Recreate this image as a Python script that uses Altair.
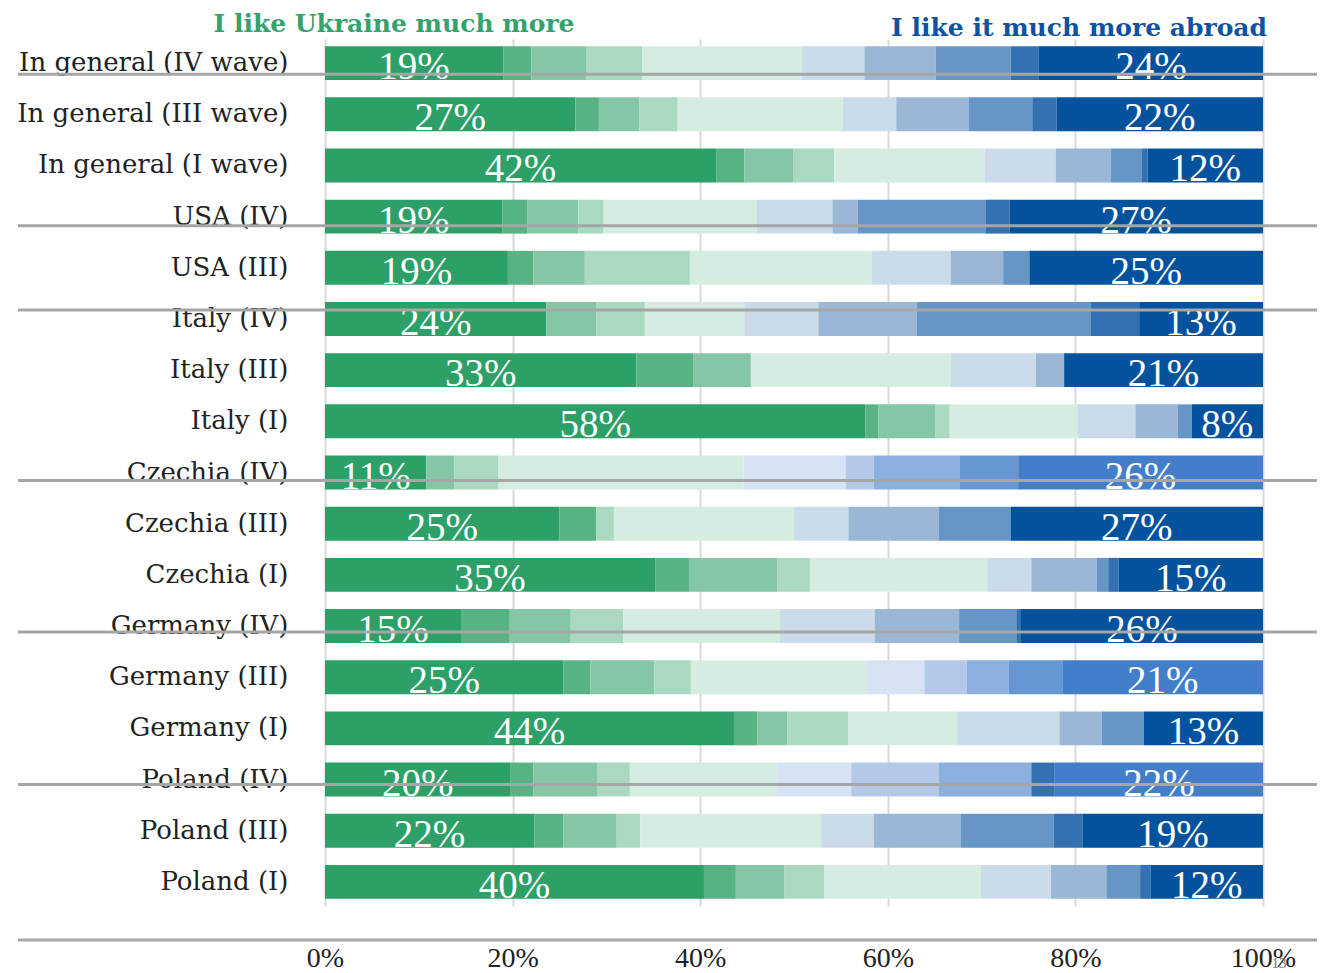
import altair as alt
import pandas as pd

ROWS = ["In general (IV wave)", "In general (III wave)", "In general (I wave)",
        "USA (IV)", "USA (III)", "Italy (IV)", "Italy (III)", "Italy (I)",
        "Czechia (IV)", "Czechia (III)", "Czechia (I)",
        "Germany (IV)", "Germany (III)", "Germany (I)",
        "Poland (IV)", "Poland (III)", "Poland (I)"]

# share of answers per scale step (1 = I like Ukraine much more ... 10 = I like it much more abroad)
SEG1 = [19.0, 26.7, 41.7, 18.9, 19.5, 23.6, 33.2, 57.6, 10.8, 25.0, 35.2, 14.5, 25.4, 43.6, 19.8, 22.3, 40.4]
SEG2 = [3.0, 2.5, 3.0, 2.7, 2.7, 0.0, 6.1, 1.4, 0.0, 3.9, 3.6, 5.2, 2.9, 2.5, 2.4, 3.1, 3.4]
SEG3 = [5.9, 4.3, 5.2, 5.4, 5.5, 5.3, 6.1, 6.1, 3.0, 0.0, 9.4, 6.5, 6.8, 3.2, 6.8, 5.7, 5.2]
SEG4 = [5.9, 4.1, 4.4, 2.7, 11.2, 5.2, 0.0, 1.5, 4.7, 1.9, 3.5, 5.6, 3.9, 6.5, 3.5, 2.5, 4.2]
SEG5 = [17.0, 17.6, 16.0, 16.3, 19.4, 10.6, 21.3, 13.6, 26.1, 19.2, 18.9, 16.7, 18.7, 11.6, 15.7, 19.3, 16.7]
SEG6 = [6.7, 5.7, 7.6, 8.1, 8.4, 7.9, 9.1, 6.2, 10.9, 5.8, 4.7, 10.1, 6.2, 10.9, 7.9, 5.6, 7.5]
SEG7 = [7.6, 7.7, 5.9, 2.7, 5.6, 10.5, 3.0, 4.5, 3.0, 9.6, 7.0, 9.0, 4.5, 4.5, 9.3, 9.3, 5.9]
SEG8 = [8.0, 6.8, 3.3, 13.6, 2.8, 18.5, 0.0, 1.5, 9.2, 7.7, 1.2, 6.1, 4.5, 4.5, 9.9, 9.9, 3.6]
SEG9 = [3.0, 2.6, 0.6, 2.6, 0.0, 5.2, 0.0, 0.0, 6.2, 0.0, 1.1, 0.5, 5.7, 0.0, 2.5, 3.1, 1.1]
SEG10 = [23.9, 22.0, 12.3, 27.0, 24.9, 13.2, 21.2, 7.6, 26.1, 26.9, 15.4, 25.8, 21.4, 12.7, 22.2, 19.2, 12.0]

FIRST_LABELS = ["19%", "27%", "42%", "19%", "19%", "24%", "33%", "58%", "11%", "25%",
                "35%", "15%", "25%", "44%", "20%", "22%", "40%"]
LAST_LABELS = ["24%", "22%", "12%", "27%", "25%", "13%", "21%", "8%", "26%", "27%",
               "15%", "26%", "21%", "13%", "22%", "19%", "12%"]

TICKS = [0, 20, 40, 60, 80, 100]
STRUCK_ROWS = ["In general (IV wave)", "USA (IV)", "Italy (IV)", "Czechia (IV)", "Germany (IV)", "Poland (IV)"]

# ---- styling ----
GREENS = ["#2ca066", "#57b284", "#84c6a5", "#abd8c1", "#d5ece0"]
BLUES = ["#cbdbea", "#9ab8d6", "#6696c6", "#3371b0", "#02529d"]
BRIGHT = ["#d7e3f4", "#b4c9e8", "#8cb0dd", "#6697d3", "#437ecb"]
BLUE_SETS = {
    "Czechia (IV)": ["c1", "c2", "c3", "c4", "c5"],
    "Germany (III)": ["c1", "c2", "c3", "c4", "c5"],
    "Poland (IV)": ["c1", "c2", "c3", "b4", "c5"],
}
STRIKE_OFFSETS = [11, 9, -9, 8, 6, 5]

segs = [SEG1, SEG2, SEG3, SEG4, SEG5, SEG6, SEG7, SEG8, SEG9, SEG10]
records = []
for r, row in enumerate(ROWS):
    bkeys = BLUE_SETS.get(row, ["b1", "b2", "b3", "b4", "b5"])
    keys = ["g1", "g2", "g3", "g4", "g5"] + bkeys
    for s in range(10):
        records.append({"row": row, "seg": s + 1, "value": segs[s][r], "ckey": keys[s]})
bars_df = pd.DataFrame(records)

lab_records = []
for r, row in enumerate(ROWS):
    lab_records.append({"row": row, "mid": SEG1[r] / 2, "label": FIRST_LABELS[r]})
    lab_records.append({"row": row, "mid": 100 - SEG10[r] / 2, "label": LAST_LABELS[r]})
labels_df = pd.DataFrame(lab_records)

color_domain = ["g1", "g2", "g3", "g4", "g5", "b1", "b2", "b3", "b4", "b5", "c1", "c2", "c3", "c4", "c5"]
color_range = GREENS + BLUES + BRIGHT

W, H = 938, 867
yscale = alt.Scale(domain=ROWS, paddingInner=0.337, paddingOuter=0.14)
xscale = alt.Scale(domain=[0, 100], nice=False)

bars = alt.Chart(bars_df).mark_bar(strokeWidth=0).encode(
    y=alt.Y("row:N", sort=ROWS, scale=yscale, title=None),
    x=alt.X("value:Q", stack="zero", scale=xscale, title=None,
            axis=alt.Axis(values=TICKS, labelExpr="datum.value + '%'", labelFlush=False)),
    color=alt.Color("ckey:N", scale=alt.Scale(domain=color_domain, range=color_range), legend=None),
    order=alt.Order("seg:Q", sort="ascending"),
)

texts = alt.Chart(labels_df).mark_text(
    font="Liberation Serif", fontSize=39, color="white", dy=4, align="center", baseline="middle"
).encode(
    y=alt.Y("row:N", sort=ROWS, title=None),
    x=alt.X("mid:Q", scale=xscale, title=None),
    text="label:N",
)

layers = [bars, texts]

for row, off in zip(STRUCK_ROWS, STRIKE_OFFSETS):
    layers.append(
        alt.Chart(pd.DataFrame({"row": [row]})).mark_rule(
            color="#a6a6a6", strokeWidth=3, yOffset=off
        ).encode(
            y=alt.Y("row:N", sort=ROWS, title=None),
            x=alt.value(-307), x2=alt.value(992),
        )
    )

one = pd.DataFrame({"k": [0]})
layers.append(
    alt.Chart(one).mark_rule(color="#a6a6a6", strokeWidth=3).encode(
        x=alt.value(-307), x2=alt.value(992), y=alt.value(901)
    )
)
layers.append(
    alt.Chart(one).mark_text(
        text="I like Ukraine much more", font="DejaVu Serif", fontWeight="bold",
        fontSize=25, color="#34a26a", align="center", baseline="alphabetic"
    ).encode(x=alt.value(69), y=alt.value(-7))
)
layers.append(
    alt.Chart(one).mark_text(
        text="I like it much more abroad", font="DejaVu Serif", fontWeight="bold",
        fontSize=25, color="#0f539e", align="right", baseline="alphabetic"
    ).encode(x=alt.value(942), y=alt.value(-3))
)
layers.append(
    alt.Chart(one).mark_text(
        text="13", font="Liberation Serif", fontSize=15, color="#777777",
        align="center", baseline="middle"
    ).encode(x=alt.value(954), y=alt.value(924))
)

chart = alt.layer(*layers).properties(
    width=W, height=H,
    autosize=alt.AutoSizeParams(type="none"),
    padding={"left": 317, "top": 31, "right": 56, "bottom": 66},
    background="white",
).configure_view(
    stroke=None
).configure_axisY(
    ticks=False, domain=False, grid=False,
    labelFont="DejaVu Serif", labelFontSize=26, labelColor="#222222",
    labelPadding=37, labelLimit=500,
).configure_axisX(
    ticks=False, domain=False, grid=True, zindex=1,
    gridColor="#aaaaaa", gridOpacity=0.45, gridWidth=2,
    labelFont="Liberation Serif", labelFontSize=28, labelColor="#222222",
    labelBaseline="middle", labelPadding=52, labelAlign="center",
)

chart.save("out.html", embed_options={"renderer": "svg", "actions": False})
